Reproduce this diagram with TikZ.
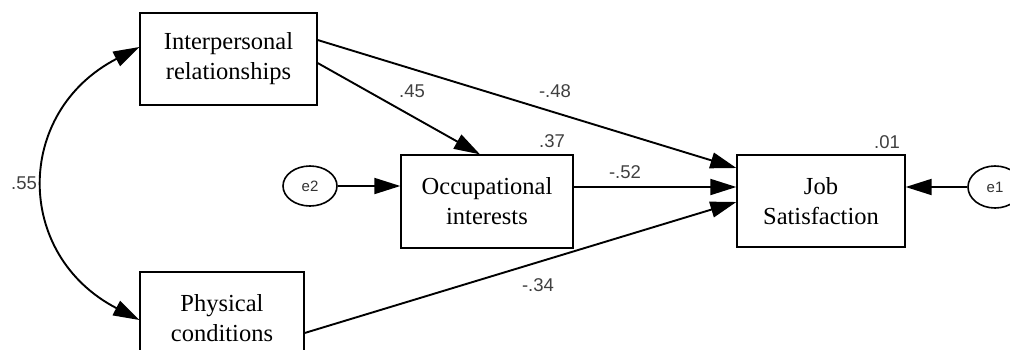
\documentclass[tikz,border=0pt]{standalone}
\usepackage{fontspec}
\setmainfont{Liberation Serif}
\newfontfamily\arialfont{Liberation Sans}
\usetikzlibrary{arrows.meta,calc,shapes.geometric}
\begin{document}
\begin{tikzpicture}[x=1pt,y=-1pt,
  box/.style={draw, line width=1.3pt, inner sep=0pt, align=center,
    font=\fontsize{24.5}{30}\selectfont},
  err/.style={draw, ellipse, line width=1.6pt, inner sep=0pt,
    minimum width=54pt, minimum height=40pt,
    font=\arialfont\fontsize{15}{17}\selectfont, text=black!80},
  tip/.style={Triangle[length=26pt,width=16pt]},
  conn/.style={line width=1.9pt, -{Triangle[length=26pt,width=16pt]}},
  coef/.style={font=\arialfont\fontsize{18.5}{20}\selectfont, text=black!75, inner sep=0pt}]
\useasboundingbox (0,0) rectangle (1010,349);
\fill[white] (0,0) rectangle (1010,349);
\clip (0,0) rectangle (1010,349);

\node[box, minimum width=177pt, minimum height=92pt] (ip) at (228.5,59) {Interpersonal\\relationships};
\node[box, minimum width=164pt, minimum height=92pt] (ph) at (222,318) {Physical\\conditions};
\node[box, minimum width=172pt, minimum height=93pt] (oc) at (487,201.5) {Occupational\\interests};
\node[box, minimum width=168pt, minimum height=92pt] (js) at (821,201) {Job\\Satisfaction};
\node[err] (e2) at (310,186) {e2};
\node[err, minimum height=42pt] (e1) at (995,187) {e1};

\draw[line width=1.9pt, {Triangle[length=26pt,width=16pt]}-{Triangle[length=26pt,width=16pt]}]
  ($(ip.west)+(0,-12)$) .. controls (14,112) and (14,255) .. ($(ph.west)+(0,2)$);

\draw[conn] ($(ip.east)+(0,-19)$) -- ($(js.west)+(0,-33)$);
\draw[conn] ($(ip.east)+(0,4)$) -- ($(oc.north)+(-7,0)$);
\draw[conn] (e2.east) -- (e2.east -| oc.west);
\draw[conn] ($(oc.east)+(0,-14.5)$) -- ($(js.west)+(0,-14)$);
\draw[conn] ($(ph.east)+(0,15)$) -- ($(js.west)+(0,1)$);
\draw[conn] (e1.west) -- (e1.west -| js.east);

\node[coef] (c55) at (24,183) {.55};
\node[coef] (c45) at (412,91) {.45};
\node[coef] (c48) at (555,91) {-.48};
\node[coef] (c37) at (552,141) {.37};
\node[coef] (c52) at (625,172) {-.52};
\node[coef] (c01) at (887,142) {.01};
\node[coef] (c34) at (538,285) {-.34};
\end{tikzpicture}
\end{document}
